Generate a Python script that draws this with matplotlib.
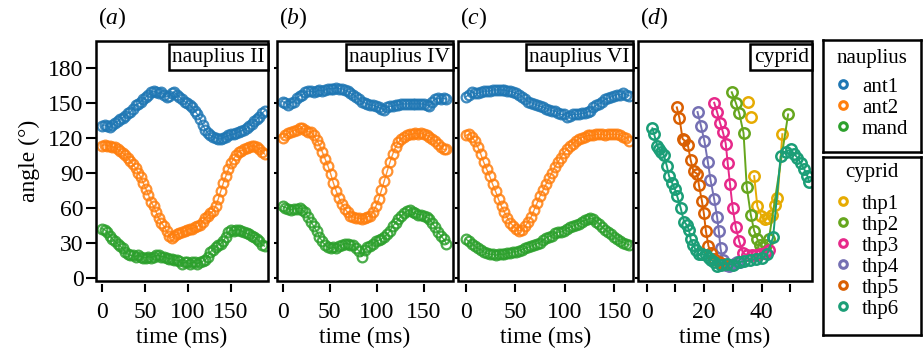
import matplotlib
matplotlib.use("Agg")
import matplotlib.pyplot as plt
from matplotlib.patches import Rectangle
from matplotlib.lines import Line2D

plt.rcParams['font.family'] = ['Liberation Serif', 'DejaVu Serif']
plt.rcParams['mathtext.fontset'] = 'custom'
plt.rcParams['mathtext.it'] = 'Liberation Serif:italic'
plt.rcParams['mathtext.rm'] = 'Liberation Serif'

# ---- data ----
naup_names = ['ant1', 'ant2', 'mand']
naup_colors = ['#1f77b4', '#ff7f0e', '#2ca02c']
cyp_names = ['thp1', 'thp2', 'thp3', 'thp4', 'thp5', 'thp6']
cyp_colors = ['#e6ab02', '#66a61e', '#e7298a', '#7570b3', '#d95f02', '#1b9e77']

# nauplius II
time_a = [0, 3, 6, 9, 12, 15, 18, 21, 24, 27, 30, 33, 36, 39, 42, 45, 48, 51, 54, 57,
          60, 63, 66, 69, 72, 75, 78, 81, 84, 87, 90, 93, 96, 99, 102, 105, 108, 111, 114, 117,
          120, 123, 126, 129, 132, 135, 138, 141, 144, 147, 150, 153, 156, 159, 162, 165, 168, 171, 174, 177,
          180, 183, 186, 189]
ant1_a = [130, 131, 130, 129, 131, 133, 134, 136, 137, 139, 141, 142, 145, 148, 149, 151, 153, 155, 157, 159,
          160, 159, 158, 159, 157, 155, 156, 158, 159, 157, 155, 153, 151, 150, 148, 146, 143, 140, 136, 131,
          127, 124, 122, 121, 120, 119, 119, 120, 121, 122, 123, 123, 124, 125, 126, 127, 128, 130, 132, 134,
          136, 138, 141, 143]
ant2_a = [113, 114, 113, 113, 112, 112, 110, 109, 107, 105, 103, 100, 97, 94, 90, 86, 81, 76, 71, 65,
          61, 56, 51, 47, 44, 40, 36, 34, 36, 37, 38, 39, 40, 41, 42, 42, 43, 44, 45, 48,
          51, 53, 55, 57, 61, 67, 74, 81, 87, 93, 98, 102, 105, 108, 109, 110, 111, 112, 113, 113,
          112, 110, 108, 106]
mand_a = [42, 41, 39, 36, 33, 31, 29, 27, 25, 22, 20, 19, 19, 18, 19, 18, 17, 17, 18, 17,
          18, 19, 19, 18, 18, 17, 16, 16, 15, 15, 14, 12, 13, 13, 12, 13, 13, 12, 13, 14,
          15, 18, 22, 24, 26, 28, 29, 31, 35, 39, 41, 40, 41, 41, 40, 39, 38, 37, 36, 35,
          33, 31, 28, 27]

# nauplius IV
time_b = [0, 3, 6, 9, 12, 15, 18, 21, 24, 27, 30, 33, 36, 39, 42, 45, 48, 51, 54, 57,
          60, 63, 66, 69, 72, 75, 78, 81, 84, 87, 90, 93, 96, 99, 102, 105, 108, 111, 114, 117,
          120, 123, 126, 129, 132, 135, 138, 141, 144, 147, 150, 153, 156, 159, 162, 165, 168, 171, 174]
ant1_b = [151, 150, 148, 150, 151, 154, 156, 157, 159, 160, 160, 159, 160, 161, 160, 161, 162, 162, 162, 163,
          162, 162, 161, 160, 158, 157, 155, 153, 151, 150, 149, 148, 148, 147, 146, 145, 144, 146, 147, 147,
          148, 148, 149, 149, 149, 149, 149, 149, 149, 149, 149, 148, 147, 151, 153, 154, 153, 154, 153]
ant2_b = [120, 122, 124, 125, 126, 127, 128, 128, 127, 125, 125, 122, 118, 114, 108, 102, 96, 89, 81, 74,
          68, 63, 59, 56, 53, 52, 51, 51, 50, 51, 52, 53, 56, 61, 67, 75, 83, 91, 99, 106,
          112, 116, 119, 121, 122, 123, 123, 124, 123, 124, 123, 122, 121, 119, 117, 115, 112, 110, 110]
mand_b = [61, 60, 59, 58, 59, 59, 60, 58, 56, 52, 48, 44, 40, 35, 31, 28, 26, 25, 26, 25,
          27, 28, 29, 29, 28, 28, 25, 23, 18, 24, 26, 27, 29, 31, 32, 33, 35, 37, 40, 44,
          47, 50, 53, 55, 57, 58, 56, 55, 54, 54, 53, 52, 50, 47, 43, 39, 36, 33, 29]

# nauplius VI
time_c = [0, 3, 6, 9, 12, 15, 18, 21, 24, 27, 30, 33, 36, 39, 42, 45, 48, 51, 54, 57,
          60, 63, 66, 69, 72, 75, 78, 81, 84, 87, 90, 93, 96, 99, 102, 105, 108, 111, 114, 117,
          120, 123, 126, 129, 132, 135, 138, 141, 144, 147, 150, 153, 156, 159, 162, 165]
ant1_c = [155, 157, 159, 158, 158, 159, 160, 160, 160, 161, 161, 161, 161, 161, 160, 160, 159, 158, 157, 155,
          153, 151, 150, 149, 148, 147, 146, 145, 144, 143, 143, 141, 140, 140, 138, 139, 140, 140, 140, 141,
          141, 142, 143, 146, 148, 149, 151, 153, 154, 155, 156, 157, 157, 158, 157, 156]
ant2_c = [122, 123, 121, 117, 112, 106, 99, 93, 87, 80, 74, 67, 61, 56, 51, 47, 44, 42, 40, 41,
          44, 48, 52, 58, 64, 70, 75, 80, 85, 90, 95, 99, 103, 107, 110, 113, 115, 117, 119, 120,
          121, 122, 122, 122, 123, 123, 123, 122, 123, 123, 123, 123, 122, 121, 120, 117]
mand_c = [33, 31, 29, 27, 25, 24, 22, 21, 20, 20, 19, 20, 20, 20, 21, 21, 22, 22, 23, 24,
          25, 26, 27, 28, 29, 30, 32, 34, 35, 36, 38, 39, 39, 40, 42, 43, 44, 45, 46, 48,
          49, 50, 51, 50, 48, 46, 43, 41, 39, 37, 35, 33, 31, 30, 29, 28]

# cypriid
t_thp1 = [35.1, 36.3, 37.4, 38.5, 39.9, 41.0, 42.2, 43.5, 44.6, 45.5, 47.2]
a_thp1 = [151, 138, 87, 61, 53, 50, 51, 54, 62, 68, 123]
t_thp2 = [29.6, 31.0, 32.2, 33.7, 34.8, 36.2, 37.4, 38.5, 39.5, 40.5, 41.5, 42.5, 49.2]
a_thp2 = [159, 150, 141, 124, 78, 54, 40, 33, 28, 26, 28, 33, 140]
t_thp3 = [23.5, 24.5, 25.5, 26.5, 27.5, 28.2, 29.0, 29.9, 31.0, 32.2, 33.5, 35.0, 36.5, 38.0, 39.5, 41.0, 42.5]
a_thp3 = [150, 142, 133, 125, 115, 98, 80, 60, 43, 31, 21, 19, 19, 19, 20, 21, 24]
t_thp4 = [17.7, 18.9, 20.1, 21.3, 22.2, 23.5, 24.5, 25.1, 25.7, 26.5, 27.5, 28.5, 29.5, 30.5, 31.5, 32.5]
a_thp4 = [142, 130, 117, 99, 84, 67, 52, 40, 25, 15, 11, 10, 11, 12, 13, 13]
t_thp5 = [10.5, 11.4, 12.5, 13.0, 14.3, 15.3, 16.3, 17.6, 18.2, 19.2, 19.9, 20.6, 21.5, 22.4, 23.5, 25.0, 26.5]
a_thp5 = [146, 137, 119, 118, 114, 101, 91, 89, 79, 66, 55, 40, 27, 21, 16, 13, 12]
t_thp6 = [2.0, 2.6, 3.7, 4.4, 5.1, 6.0, 7.0, 7.8, 8.9, 9.8, 10.6, 11.8, 13.0, 14.0, 14.7, 15.3, 16.2, 17.0,
          18.2, 19.3, 20.5, 21.6, 22.5, 23.4, 24.5, 26.0, 28.0, 30.0, 32.0, 34.0, 36.0, 38.0, 40.0, 42.0,
          44.0, 46.6, 48.4, 50.1, 51.3, 52.4, 53.6, 54.8, 55.9, 56.5]
a_thp6 = [128, 123, 113, 110, 108, 105, 96, 87, 81, 76, 70, 60, 48, 45, 41, 33, 28, 24,
          20, 20, 19, 17, 15, 13, 10, 11, 12, 11, 13, 14, 15, 16, 17, 20,
          35, 104, 108, 110, 106, 103, 98, 93, 87, 82]

FS = 17
W, H = 923.0, 358.0
top, bot = 41, 281
boxes = [(96, 268), (277, 453), (458, 633), (638, 812)]

fig = plt.figure(figsize=(W / 100, H / 100), dpi=100)
axes = [fig.add_axes([x0 / W, 1 - bot / H, (x1 - x0) / W, (bot - top) / H]) for x0, x1 in boxes]


def style(ax, xlim, xticks, xlabels, label, title, first):
    ax.set_xlim(xlim)
    ax.set_ylim(-3, 203)
    for s in ax.spines.values():
        s.set_visible(False)
    ax.add_patch(Rectangle((0, 0), 1, 1, transform=ax.transAxes, fill=False,
                           lw=1.8, ec='black', clip_on=False, zorder=5))
    ax.spines['bottom'].set_position(('outward', 2))
    ax.set_xticks(xticks)
    ax.set_xticklabels(xlabels)
    ax.tick_params(axis='x', direction='out', length=6, width=1.5, labelsize=FS, pad=7)
    ax.set_yticks(range(0, 181, 30))
    ax.tick_params(axis='y', direction='out', length=7 if first else 2, width=1.5,
                   labelsize=FS, labelleft=first, pad=2)
    ax.set_xlabel('time (ms)', fontsize=FS, labelpad=3)
    if first:
        ax.set_ylabel('angle (°)', fontsize=FS, labelpad=6)
    ax.text(0.982, 0.972, title, transform=ax.transAxes, ha='right', va='top', fontsize=15.5,
            bbox=dict(boxstyle='square,pad=0.16', fc='white', ec='black', lw=1.8), zorder=6)
    ax.text(0.01, 1.095, '(' + r'$\mathit{' + label + '}$' + ')', transform=ax.transAxes,
            ha='left', va='center', fontsize=FS)


mk = dict(marker='o', mfc='none', ms=7, mew=1.6, lw=1.0)

naup = [(time_a, [ant1_a, ant2_a, mand_a]),
        (time_b, [ant1_b, ant2_b, mand_b]),
        (time_c, [ant1_c, ant2_c, mand_c])]
for ax, (tt, series) in zip(axes[:3], naup):
    for vals, c in zip(series, naup_colors):
        ax.plot(tt, vals, color=c, alpha=0.85, **mk)

style(axes[0], (-7, 193), [0, 50, 100, 150], ['0', '50', '100', '150'], 'a', 'nauplius II', True)
style(axes[1], (-6, 181), [0, 50, 100, 150], ['0', '50', '100', '150'], 'b', 'nauplius IV', False)
style(axes[2], (-8, 169), [0, 50, 100, 150], ['0', '50', '100', '150'], 'c', 'nauplius VI', False)

axd = axes[3]
cyp = [(t_thp1, a_thp1), (t_thp2, a_thp2), (t_thp3, a_thp3),
       (t_thp4, a_thp4), (t_thp5, a_thp5), (t_thp6, a_thp6)]
for i, ((tt, vals), c) in enumerate(zip(cyp, cyp_colors)):
    axd.plot(tt, vals, ls='none', marker='o', mfc='none', ms=7.5, mew=1.8, color=c)
    s = 2 if i == 0 else 0  # thp1 fit line starts below the first two points
    axd.plot(tt[s:], vals[s:], color=c, lw=1.4)
style(axd, (-3, 57.5), [0, 10, 20, 30, 40, 50], ['0', '', '20', '', '40', ''], 'd', 'cyprid', False)


# legend boxes: title as text, entries as a legend below it
def legend_box(y0, y1, title_y, first_y, names, colors, title):
    lax = fig.add_axes([823 / W, 1 - y1 / H, 98 / W, (y1 - y0) / H])
    lax.set_xticks([])
    lax.set_yticks([])
    for s in lax.spines.values():
        s.set_linewidth(1.8)
    h = y1 - y0
    lax.text(0.5, 1 - (title_y - y0) / h, title, transform=lax.transAxes,
             ha='center', va='center', fontsize=15)
    handles = [Line2D([], [], ls='none', marker='o', mfc='none', mec=c, ms=5.5, mew=2.2) for c in colors]
    lax.legend(handles, names, loc='upper left',
               bbox_to_anchor=(0.1, 1 - (first_y - 8 - y0) / h), frameon=False, fontsize=15,
               handletextpad=0.4, labelspacing=0.07, borderaxespad=0.0,
               handlelength=1.0, borderpad=0.0)

legend_box(40, 152, 58, 85, naup_names, naup_colors, 'nauplius')
legend_box(157, 335, 173, 202, cyp_names, cyp_colors, 'cyprid')

fig.savefig('out.png', dpi=100)
